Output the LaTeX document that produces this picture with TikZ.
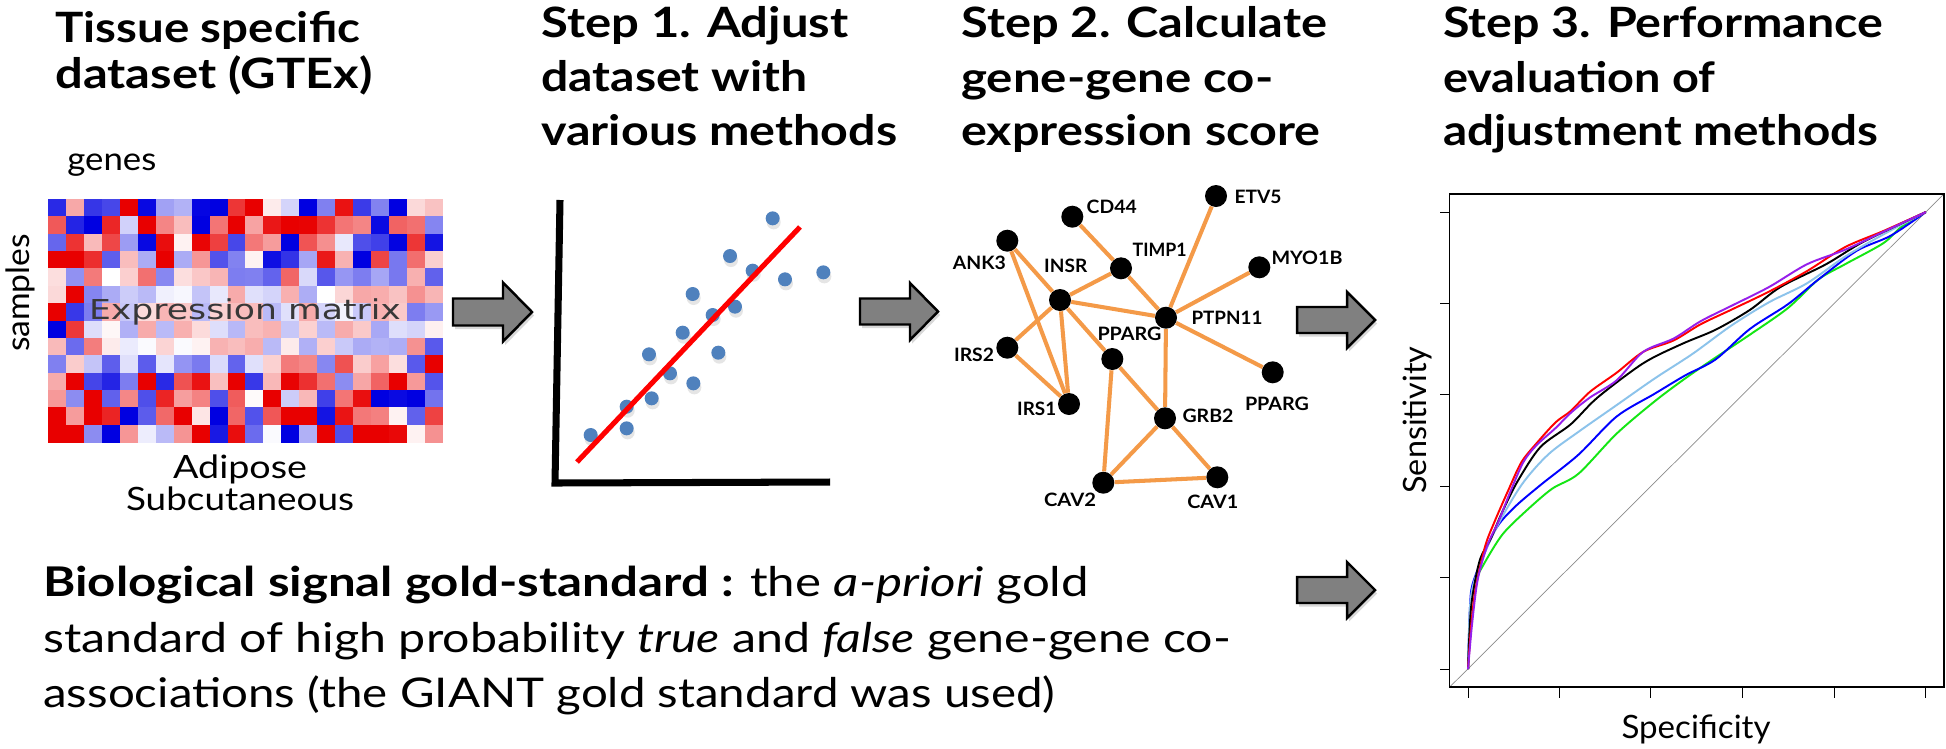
\documentclass[tikz,border=0pt]{standalone}
\usepackage{fontspec}
\setmainfont{Lato}
\newfontfamily\dejavu{DejaVu Sans}
\usetikzlibrary{shadows}
\definecolor{morange}{RGB}{244,154,72}
\definecolor{mdot}{RGB}{79,129,189}
\definecolor{mred}{RGB}{232,0,0}
\definecolor{mblue}{RGB}{0,0,225}
\definecolor{arrgray}{RGB}{128,128,128}
\definecolor{rocblue}{RGB}{0,0,255}
\definecolor{rocgreen}{RGB}{20,230,20}
\definecolor{rocsky}{RGB}{140,195,235}
\definecolor{rocpurple}{RGB}{150,30,235}
\definecolor{rocred}{RGB}{255,0,0}
\newlength\fitlen
% scale text horizontally so that it is #1 pixels wide (1 px = 0.02 cm)
\newcommand\fitw[2]{\settowidth{\fitlen}{#2}\pgfmathsetmacro\fitf{#1*0.5690551/\fitlen}\scalebox{\fitf}[1]{#2}}
\begin{document}
\begin{tikzpicture}[x=0.02cm,y=-0.02cm,
  title/.style={anchor=base west, inner sep=0, font=\fontsize{23.8}{28}\selectfont\bfseries},
  body/.style={anchor=base west, inner sep=0, font=\fontsize{23.3}{28}\selectfont},
  lab/.style={inner sep=0, font=\fontsize{18.3}{22}\selectfont},
  gnode/.style={circle, fill=black, inner sep=0, minimum size=0.44cm},
  glab/.style={inner sep=0, font=\fontsize{10.5}{12}\selectfont\bfseries},
  gedge/.style={draw=morange, line width=2.3pt},
  blockarrow/.style={fill=arrgray, draw=black, line width=1.4pt, line join=miter,
    drop shadow={opacity=0.3, shadow xshift=1.2pt, shadow yshift=-2pt}},
  dot/.style={fill=mdot},
  roc/.style={line width=1.1pt, line join=round},
]
\useasboundingbox (0,0) rectangle (1946,748);
\fill[white] (0,0) rectangle (1946,748);

% ---------------- titles
\node[title] (t1a) at (55,42) {\fitw{305}{Tissue specific}};
\node[title] (t1b) at (55,88) {\fitw{317}{dataset (GTEx)}};
\node[title] (t2a) at (541,37) {\fitw{307}{Step 1. Adjust}};
\node[title] (t2b) at (541,91) {\fitw{266}{dataset with}};
\node[title] (t2c) at (541,145) {\fitw{356}{various methods}};
\node[title] (t3a) at (961,37) {\fitw{366}{Step 2. Calculate}};
\node[title] (t3b) at (961,92) {\fitw{312}{gene-gene co-}};
\node[title] (t3c) at (961,145) {\fitw{359}{expression score}};
\node[title] (t4a) at (1443,37) {\fitw{440}{Step 3. Performance}};
\node[title] (t4b) at (1443,92) {\fitw{272}{evaluation of}};
\node[title] (t4c) at (1443,145) {\fitw{435}{adjustment methods}};

% ---------------- expression matrix
\pgfmathsetseed{12}
\foreach \i in {0,...,21}{
  \foreach \j in {0,...,13}{
    \pgfmathsetmacro\v{rand}
    \pgfmathsetmacro\f{((\j>=5) && (\j<=8) && (\i>=3) && (\i<=19)) ? 0.3 : (((\j>=4) && (\j<=9) && (\i>=2) && (\i<=20)) ? 0.6 : 1)}
    \pgfmathtruncatemacro\p{min(100,100*(abs(\v)^0.7)*1.15*\f)}
    \pgfmathtruncatemacro\s{\v>0}
    \ifnum\s=1
      \fill[mred!\p!white] (48+\i*17.95,199+\j*17.36) rectangle +(18.5,17.9);
    \else
      \fill[mblue!\p!white] (48+\i*17.95,199+\j*17.36) rectangle +(18.5,17.9);
    \fi
  }
}
\node[inner sep=0, text=black!78, font=\dejavu\fontsize{15.6}{18}\selectfont] (exprtext) at (245,312) {\fitw{312}{Expression matrix}};
\node[lab, anchor=base west] (genes) at (67,170) {\fitw{89}{genes}};
\node[lab, rotate=90] (samples) at (20,293) {\fitw{118}{samples}};
\node[lab, anchor=base] (adipose) at (240,478) {\fitw{134}{Adipose}};
\node[lab, anchor=base] (subcut) at (240,510) {\fitw{228}{Subcutaneous}};

% ---------------- block arrows
\draw[blockarrow] (453,298.5) -- (503,298.5) -- (503,282.5) -- (532,312) -- (503,341.5) -- (503,325.5) -- (453,325.5) -- cycle;
\draw[blockarrow] (860,298.5) -- (910,298.5) -- (910,283) -- (938,311.5) -- (910,340) -- (910,324.5) -- (860,324.5) -- cycle;
\draw[blockarrow] (1297,307) -- (1347,307) -- (1347,292) -- (1375,320) -- (1347,348) -- (1347,333) -- (1297,333) -- cycle;
\draw[blockarrow] (1297,577) -- (1347,577) -- (1347,562) -- (1375,590) -- (1347,618) -- (1347,603) -- (1297,603) -- cycle;

% ---------------- scatter plot
\draw[line width=4pt, line join=miter] (560,200) -- (555,483) -- (830,482);
\foreach \px/\py in {272/855,380/770,380/835,455/745,447/613,510/670,580/700,548/548,578/432,638/495,655/608,705/470,690/318,758/362,818/205,855/388,970/367}{
  \fill[black!10] (500+\px/3+1,150+\py/3+4) circle[radius=0.14cm];
}
\foreach \px/\py in {272/855,380/770,380/835,455/745,447/613,510/670,580/700,548/548,578/432,638/495,655/608,705/470,690/318,758/362,818/205,855/388,970/367}{
  \fill[dot] (500+\px/3,150+\py/3) circle[radius=0.14cm];
}
\draw[red, line width=2.9pt] (577,462) -- (800,227);

% ---------------- network
\node[gnode] (cd44) at (1072.3,216.7) {};
\node[gnode] (etv5) at (1216,196) {};
\node[gnode] (ank3) at (1007.3,240.7) {};
\node[gnode] (insr) at (1060,300) {};
\node[gnode] (timp1) at (1121,268.3) {};
\node[gnode] (myo1b) at (1259.3,267.3) {};
\node[gnode] (ptpn11) at (1166,317.7) {};
\node[gnode] (ppargm) at (1112.3,359) {};
\node[gnode] (irs2) at (1007.3,347.7) {};
\node[gnode] (ppargr) at (1272.7,372.3) {};
\node[gnode] (irs1) at (1069,404) {};
\node[gnode] (grb2) at (1165,418.3) {};
\node[gnode] (cav2) at (1103.3,482.7) {};
\node[gnode] (cav1) at (1217.3,477.3) {};
\foreach \a/\b in {cd44/timp1, etv5/ptpn11, ank3/insr, ank3/irs1, insr/timp1, insr/ptpn11, insr/irs2, insr/irs1, insr/ppargm, timp1/ptpn11, myo1b/ptpn11, ptpn11/ppargr, ptpn11/grb2, irs2/irs1, ppargm/grb2, ppargm/cav2, grb2/cav2, grb2/cav1, cav2/cav1}{
  \draw[gedge] (\a) -- (\b);
}
\node[glab] (lcd44) at (1111.7,206.7) {\fitw{50}{CD44}};
\node[glab] (letv5) at (1258,196.7) {\fitw{47}{ETV5}};
\node[glab] (lank3) at (979.3,262.7) {\fitw{53}{ANK3}};
\node[glab] (linsr) at (1065.7,266.3) {\fitw{43}{INSR}};
\node[glab] (ltimp1) at (1159.7,250.3) {\fitw{54}{TIMP1}};
\node[glab] (lmyo1b) at (1307,258.3) {\fitw{71}{MYO1B}};
\node[glab] (lptpn11) at (1227,318.3) {\fitw{71}{PTPN11}};
\node[glab] (lppargm) at (1129.5,333.7) {\fitw{64}{PPARG}};
\node[glab] (lirs2) at (974,355) {\fitw{40}{IRS2}};
\node[glab] (lppargr) at (1277,403.7) {\fitw{64}{PPARG}};
\node[glab] (lirs1) at (1036.7,409) {\fitw{39}{IRS1}};
\node[glab] (lgrb2) at (1208,415.5) {\fitw{51}{GRB2}};
\node[glab] (lcav2) at (1070,500) {\fitw{52}{CAV2}};
\node[glab] (lcav1) at (1212.8,502) {\fitw{51}{CAV1}};

% ---------------- ROC plot
\begin{scope}[shift={(1350,150)}, scale=0.3808]
  \draw[black!45, line width=0.4pt] (262,1410) -- (1560,115);
  \foreach \yy in {163,403,643,883,1123,1363} \draw[line width=0.6pt] (237,\yy) -- (262,\yy);
  \foreach \xx in {310,550,790,1031,1272,1512} \draw[line width=0.6pt] (\xx,1410) -- (\xx,1438);
  \draw[roc, rocgreen] plot[smooth] coordinates {(310,1363) (315,1240) (322,1150) (350,1090) (400,1010) (460,950) (530,890) (600,850) (700,745) (800,660) (880,600) (960,545) (1050,485) (1150,415) (1230,340) (1300,300) (1400,245) (1450,200) (1512,163)};
  \draw[roc, rocblue] plot[smooth] coordinates {(310,1363) (315,1200) (325,1130) (380,1000) (430,940) (500,880) (600,800) (700,700) (800,640) (880,592) (960,550) (1050,470) (1150,405) (1230,340) (1330,265) (1420,225) (1512,163)};
  \draw[roc, rocsky] plot[smooth] coordinates {(310,1363) (315,1200) (330,1120) (380,1000) (450,880) (520,800) (600,740) (700,670) (800,600) (900,535) (1000,462) (1100,400) (1200,350) (1300,280) (1400,222) (1512,163)};
  \draw[roc, black] plot[smooth] coordinates {(310,1363) (318,1200) (340,1080) (370,1020) (400,950) (440,870) (500,780) (580,720) (650,650) (770,560) (870,510) (960,472) (1050,420) (1130,360) (1250,300) (1350,240) (1512,163)};
  \draw[roc, rocred] plot[smooth] coordinates {(310,1363) (318,1250) (330,1150) (355,1040) (380,975) (415,895) (450,820) (490,770) (540,715) (580,685) (630,635) (700,585) (770,530) (850,500) (920,458) (1000,420) (1100,372) (1200,318) (1300,255) (1400,213) (1512,163)};
  \draw[roc, rocpurple] plot[smooth] coordinates {(310,1363) (320,1250) (335,1130) (360,1040) (390,975) (420,900) (455,820) (490,775) (540,730) (580,690) (630,650) (700,605) (770,530) (850,495) (920,450) (1000,410) (1100,360) (1200,300) (1300,262) (1400,215) (1512,163)};
  \draw[line width=0.8pt] (262,115) rectangle (1560,1410);
\end{scope}
\node[lab, rotate=90, anchor=base] (sens) at (1426,420) {\fitw{147}{Sensitivity}};
\node[lab, anchor=base] (spec) at (1696,738) {\fitw{149}{Specificity}};

% ---------------- bottom text
\node[body] (b1) at (43,596) {\fitw{1046}{\textbf{Biological signal gold-standard :} the \textit{a-priori} gold}};
\node[body] (b2) at (43,652) {\fitw{1188}{standard of high probability \textit{true} and \textit{false} gene-gene co-}};
\node[body] (b3) at (43,707) {\fitw{1012}{associations (the GIANT gold standard was used)}};
\end{tikzpicture}
\end{document}
